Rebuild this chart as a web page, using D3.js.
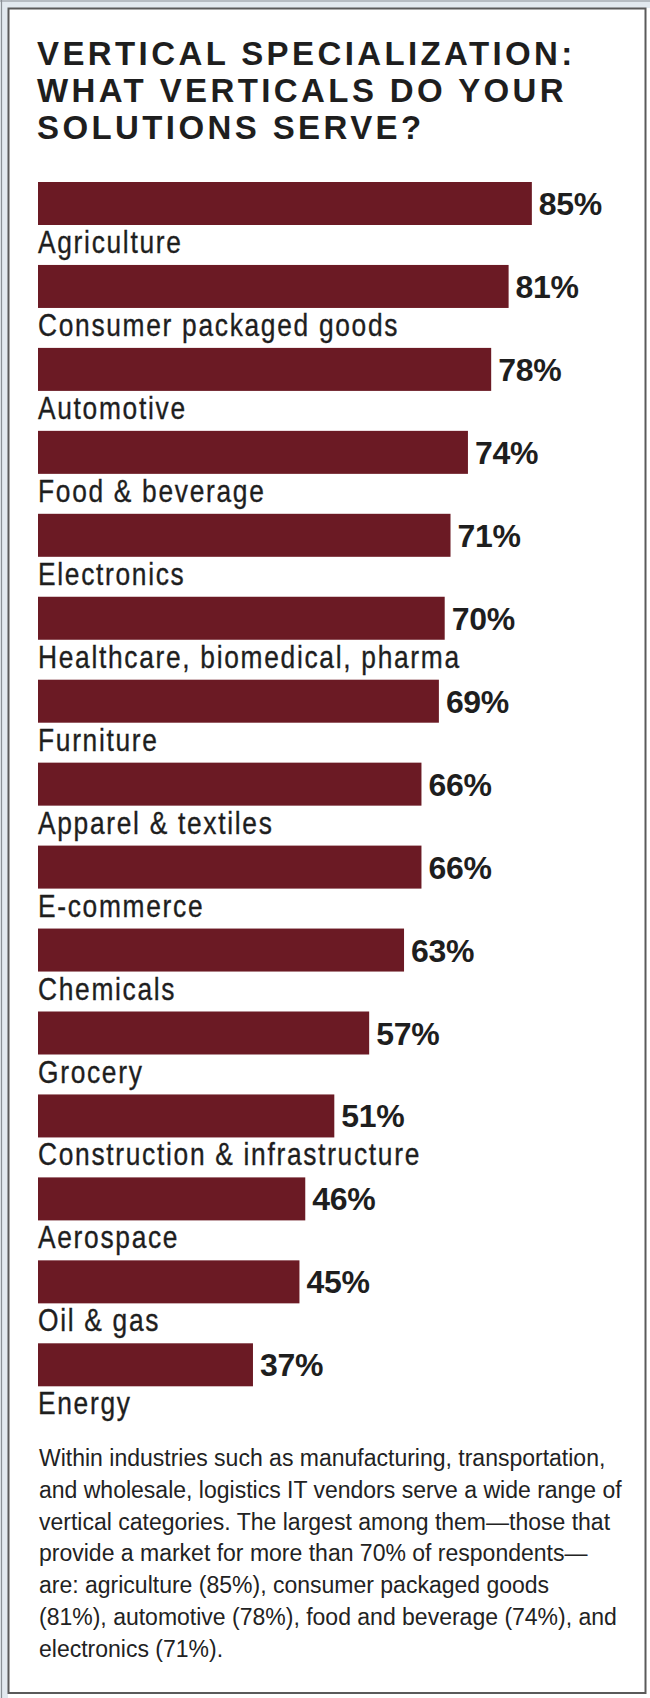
<!DOCTYPE html>
<html>
<head>
<meta charset="utf-8">
<script src="https://cdn.jsdelivr.net/npm/d3@7"></script>
<style>
  html, body { margin: 0; padding: 0; background: #fff; }
  svg { display: block; }
</style>
</head>
<body>
<div id="chart"></div>
<script>
// Survey: share of respondents serving each vertical
const categories = [
  "Agriculture",
  "Consumer packaged goods",
  "Automotive",
  "Food & beverage",
  "Electronics",
  "Healthcare, biomedical, pharma",
  "Furniture",
  "Apparel & textiles",
  "E-commerce",
  "Chemicals",
  "Grocery",
  "Construction & infrastructure",
  "Aerospace",
  "Oil & gas",
  "Energy"
];
const values = [85, 81, 78, 74, 71, 70, 69, 66, 66, 63, 57, 51, 46, 45, 37];

const titleLines = [
  "VERTICAL SPECIALIZATION:",
  "WHAT VERTICALS DO YOUR",
  "SOLUTIONS SERVE?"
];

const noteLines = [
  "Within industries such as manufacturing, transportation,",
  "and wholesale, logistics IT vendors serve a wide range of",
  "vertical categories. The largest among them\u2014those that",
  "provide a market for more than 70% of respondents\u2014",
  "are: agriculture (85%), consumer packaged goods",
  "(81%), automotive (78%), food and beverage (74%), and",
  "electronics (71%)."
];

const W = 650, H = 1698;
const barColor = "#6b1a24";
const inkColor = "#1e1e1e";

const svg = d3.select("#chart").append("svg")
  .attr("width", W).attr("height", H);

// Frame: light band on top/left with a thin outer rule, then the main box
svg.append("rect").attr("x", 0).attr("y", 0).attr("width", W).attr("height", 8).attr("fill", "#e2e9ef");
svg.append("rect").attr("x", 0).attr("y", 0).attr("width", 8).attr("height", H).attr("fill", "#e2e9ef");
svg.append("line").attr("x1", 0).attr("x2", W).attr("y1", 1).attr("y2", 1).attr("stroke", "#8a9096").attr("stroke-width", 1.2);
svg.append("line").attr("x1", 1.5).attr("x2", 1.5).attr("y1", 0).attr("y2", H).attr("stroke", "#8a9096").attr("stroke-width", 1.2);
svg.append("rect")
  .attr("x", 8.5).attr("y", 8.5)
  .attr("width", 637).attr("height", 1684.5)
  .attr("fill", "#fff")
  .attr("stroke", "#5a5a5a").attr("stroke-width", 2);

// Title
svg.append("g").selectAll("text")
  .data(titleLines)
  .join("text")
  .attr("x", 37)
  .attr("y", (d, i) => 65 + i * 37)
  .attr("fill", inkColor)
  .attr("font-family", "'Liberation Sans', Arial, sans-serif")
  .attr("font-weight", 700)
  .attr("font-size", 33)
  .attr("letter-spacing", 3.4)
  .text(d => d);

// Scales
const x = d3.scaleLinear().domain([0, 100]).range([38, 619]);
const step = 82.95, pad = 1 - 43 / step, top0 = 182;
const y = d3.scaleBand()
  .domain(categories)
  .range([top0, top0 + step * (categories.length - pad)])
  .paddingInner(pad)
  .paddingOuter(0)
  .align(0);

const rows = categories.map((c, i) => ({ cat: c, val: values[i] }));

const g = svg.append("g");

g.selectAll("rect.bar")
  .data(rows)
  .join("rect")
  .attr("class", "bar")
  .attr("x", x(0))
  .attr("y", d => y(d.cat))
  .attr("width", d => x(d.val) - x(0))
  .attr("height", y.bandwidth())
  .attr("fill", barColor);

// Value labels at bar ends
g.selectAll("text.val")
  .data(rows)
  .join("text")
  .attr("class", "val")
  .attr("x", d => x(d.val) + 7)
  .attr("y", d => y(d.cat) + y.bandwidth() / 2 + 11.5)
  .attr("fill", inkColor)
  .attr("font-family", "'Liberation Sans', Arial, sans-serif")
  .attr("font-weight", 700)
  .attr("font-size", 32)
  .attr("letter-spacing", -0.3)
  .text(d => d.val + "%");

// Category names under each bar, set in a condensed style
g.selectAll("text.cat")
  .data(rows)
  .join("text")
  .attr("class", "cat")
  .attr("transform", d => `translate(38,${y(d.cat) + y.bandwidth() + 28}) scale(0.85,1)`)
  .attr("fill", inkColor)
  .attr("stroke", inkColor)
  .attr("stroke-width", 0.35)
  .attr("font-family", "'Liberation Sans', Arial, sans-serif")
  .attr("font-size", 31)
  .attr("letter-spacing", 2)
  .text(d => d.cat);

// Footnote
svg.append("g").selectAll("text")
  .data(noteLines)
  .join("text")
  .attr("x", 39)
  .attr("y", (d, i) => 1466 + i * 31.8)
  .attr("fill", "#222")
  .attr("font-family", "'Liberation Sans', Arial, sans-serif")
  .attr("font-size", 23)
  .text(d => d);
</script>
</body>
</html>
